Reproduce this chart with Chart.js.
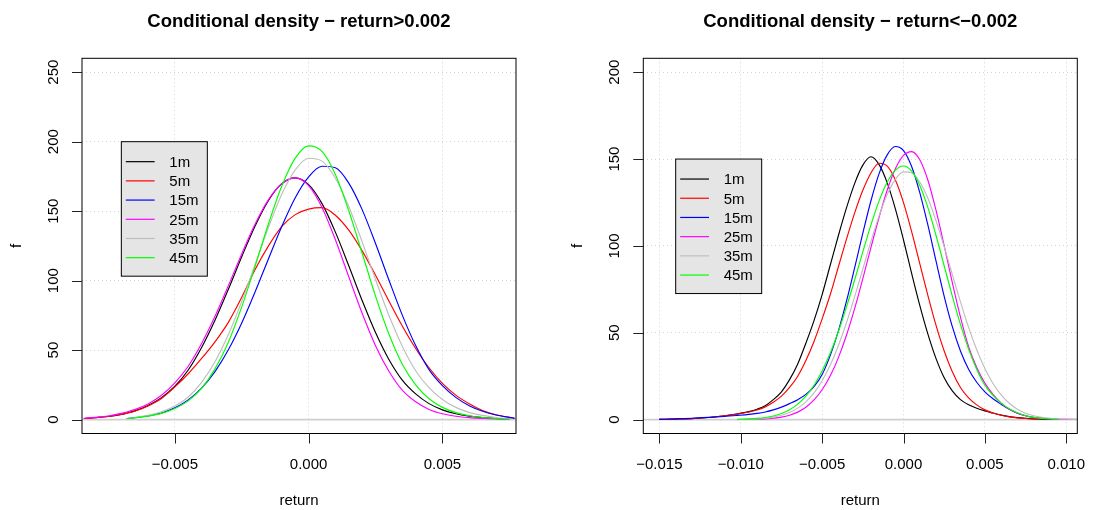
<!DOCTYPE html>
<html>
<head>
<meta charset="utf-8">
<script src="https://cdn.jsdelivr.net/npm/chart.js@4/dist/chart.umd.min.js"></script>
<style>
  html, body { margin: 0; padding: 0; background: #ffffff; }
  #wrap { position: relative; width: 1094px; height: 510px; }
  canvas { position: absolute; top: 0; }
</style>
</head>
<body>
<div id="wrap">
  <canvas id="up" width="547" height="510" style="left:0"></canvas>
  <canvas id="down" width="547" height="510" style="left:547px"></canvas>
</div>
<script>
// Horizons and their line colours
const horizons = ['1m', '5m', '15m', '25m', '35m', '45m'];
const horizonColors = ['#000000', '#FF0000', '#0000FF', '#FF00FF', '#BEBEBE', '#00FF00'];

// Panel 1: density conditional on return > 0.002
const upReturns = [-0.0084, -0.0080, -0.0075, -0.0070, -0.0068, -0.0065, -0.0060, -0.0055, -0.0050, -0.0045,
  -0.0040, -0.0035, -0.0030, -0.0025, -0.0020, -0.0015, -0.0010, -0.0005, 0.0000, 0.0005,
  0.0010, 0.0015, 0.0020, 0.0025, 0.0030, 0.0035, 0.0040, 0.0045, 0.0050, 0.0055,
  0.0060, 0.0065, 0.0070, 0.0075, 0.0077];
const up1m = [0.8, 1.3, 2.2, 3.8, 4.7, 6.3, 10.2, 15.8, 24.0, 35.7,
  51.9, 71.5, 93.8, 117.2, 139.3, 157.7, 169.8, 174.0, 169.1, 155.4,
  134.9, 110.7, 85.7, 62.7, 43.3, 28.4, 18.5, 11.5, 7.0, 4.2,
  2.5, 1.4, 0.8, 0.4, null];
const up5m = [0.8, 1.3, 2.2, 3.7, 4.6, 6.0, 9.8, 15.2, 23.5, 33.0,
  44.0, 56.0, 70.0, 88.0, 108.0, 125.0, 139.0, 147.5, 151.5, 152.5,
  147.1, 136.3, 121.4, 103.9, 85.4, 67.4, 51.2, 37.3, 26.1, 17.6,
  11.4, 6.5, 3.5, 1.6, 1.0];
const up15m = [null, null, null, null, 0.8, 1.4, 2.6, 4.8, 8.5, 14.2,
  22.7, 34.5, 50.2, 69.5, 91.9, 115.8, 139.2, 159.7, 174.7, 182.3,
  181.2, 170.2, 151.1, 126.7, 100.5, 75.2, 53.3, 36.0, 24.5, 16.0,
  10.0, 6.0, 3.3, 1.6, 1.0];
const up25m = [1.0, 1.6, 2.6, 4.5, 5.5, 7.2, 11.3, 17.5, 26.5, 38.4,
  54.7, 74.3, 96.4, 119.2, 140.7, 158.3, 169.9, 174.0, 168.4, 152.6,
  129.4, 102.8, 76.5, 53.2, 34.8, 21.2, 12.8, 7.3, 4.2, 2.4,
  1.4, 0.8, 0.4, 0.2, null];
const up35m = [null, null, null, null, 0.8, 1.5, 3.0, 5.6, 9.8, 16.3,
  26.8, 41.6, 61.2, 85.1, 111.6, 138.4, 162.3, 179.7, 188.1, 186.0,
  173.7, 153.4, 127.9, 100.8, 75.1, 52.8, 35.2, 23.0, 14.5, 8.8,
  5.2, 3.0, 1.5, 0.6, null];
const up45m = [null, null, null, null, 0.8, 1.3, 2.5, 4.5, 8.0, 13.5,
  22.5, 36.5, 55.7, 81.1, 110.4, 140.9, 168.3, 188.2, 197.0, 193.0,
  176.4, 150.3, 119.7, 88.9, 61.6, 39.8, 25.0, 15.0, 8.8, 5.0,
  2.8, 1.5, 0.7, 0.3, null];

// Panel 2: density conditional on return < -0.002
const downReturns = [-0.0150, -0.0140, -0.0130, -0.0120, -0.0110, -0.0102, -0.0095, -0.0090, -0.0085, -0.0080,
  -0.0075, -0.0070, -0.0065, -0.0060, -0.0055, -0.0050, -0.0045, -0.0040, -0.0035, -0.0030,
  -0.0025, -0.0020, -0.0015, -0.0010, -0.0005, 0.0000, 0.0005, 0.0010, 0.0015, 0.0020,
  0.0025, 0.0030, 0.0035, 0.0040, 0.0045, 0.0050, 0.0055, 0.0060, 0.0065, 0.0070,
  0.0075, 0.0080, 0.0085, 0.0090, 0.0095, 0.0100, 0.0107];
const down1m = [0.1, 0.3, 0.6, 1.2, 2.2, 3.3, 4.6, 6.0, 8.0, 11.5,
  16.0, 23.0, 32.0, 44.0, 57.0, 72.0, 89.0, 106.0, 122.0, 136.0,
  146.5, 151.3, 146.8, 136.3, 121.3, 103.4, 84.2, 65.8, 49.2, 35.1,
  24.1, 16.5, 11.5, 8.5, 6.5, 5.0, 3.8, 2.6, 1.7, 1.1,
  0.7, 0.4, 0.25, 0.15, 0.1, null, null];
const down5m = [0.1, 0.3, 0.6, 1.2, 2.2, 3.2, 4.4, 5.5, 7.3, 10.0,
  13.5, 18.5, 25.0, 34.0, 45.0, 58.0, 72.0, 88.0, 104.0, 119.0,
  132.0, 142.0, 147.6, 145.9, 137.9, 124.9, 108.2, 89.8, 71.4, 54.2,
  39.5, 27.6, 18.5, 12.5, 8.5, 5.6, 3.8, 2.5, 1.6, 1.0,
  0.65, 0.4, 0.25, 0.15, 0.1, null, null];
const down15m = [0.1, 0.4, 0.8, 1.3, 1.8, 2.4, 3.0, 3.6, 4.4, 5.6,
  7.2, 9.2, 11.5, 14.5, 19.0, 26.0, 37.0, 51.1, 68.3, 87.5,
  107.3, 126.0, 141.6, 152.4, 157.2, 154.9, 145.7, 130.7, 111.9, 91.2,
  71.0, 53.5, 39.5, 29.0, 21.5, 16.0, 12.0, 8.8, 5.9, 3.7,
  2.2, 1.2, 0.6, 0.3, 0.1, null, null];
const down25m = [null, null, null, null, null, 0.05, 0.1, 0.2, 0.4, 0.8,
  1.4, 2.5, 4.3, 7.1, 11.3, 17.2, 25.2, 35.7, 48.7, 64.0,
  81.2, 99.1, 116.5, 132.2, 144.4, 152.1, 154.3, 149.6, 137.8, 120.4,
  100.1, 78.9, 59.0, 42.0, 30.0, 21.0, 14.5, 9.5, 6.0, 3.7,
  2.2, 1.3, 0.8, 0.5, 0.3, 0.15, 0.08];
const down35m = [null, null, null, null, null, 0.05, 0.2, 0.4, 0.8, 1.4,
  2.5, 4.1, 6.6, 10.2, 15.4, 22.4, 31.4, 42.7, 55.9, 70.8,
  86.7, 102.6, 117.3, 129.6, 138.3, 142.6, 142.1, 136.8, 127.4, 114.4,
  99.5, 83.5, 67.8, 53.1, 40.2, 29.4, 20.8, 14.2, 9.4, 6.0,
  3.7, 2.2, 1.3, 0.7, 0.4, 0.2, 0.1];
const down45m = [null, null, null, null, null, 0.15, 0.4, 0.7, 1.2, 2.1,
  3.5, 5.7, 8.9, 13.5, 19.8, 28.0, 38.3, 50.7, 65.0, 80.5,
  96.6, 112.1, 125.9, 136.6, 143.6, 146.0, 143.1, 134.8, 122.0, 106.0,
  88.5, 71.1, 54.8, 40.6, 28.9, 19.8, 14.0, 9.5, 6.2, 3.9,
  2.3, 1.3, 0.7, 0.35, 0.15, null, null];

// Axis ticks
const upXTicks = [-0.005, 0, 0.005];
const upYTicks = [0, 50, 100, 150, 200, 250];
const downXTicks = [-0.015, -0.010, -0.005, 0, 0.005, 0.010];
const downYTicks = [0, 50, 100, 150, 200];

const FONT = '"Liberation Sans", Arial, Helvetica, sans-serif';

function fmtReturn(v) {
  const s = Math.abs(v).toFixed(3);
  return v < -1e-12 ? '\u2212' + s : s;
}

// Box, ticks, labels, titles and the in-plot legend
const decorations = {
  id: 'decorations',
  afterDatasetsDraw(chart, args, opts) {
    const { ctx, chartArea: a, scales: { x, y } } = chart;
    ctx.save();

    // legend box
    const lx = x.getPixelForValue(opts.legendAt[0]);
    const ly = y.getPixelForValue(opts.legendAt[1]);
    const lw = 86, lh = 134.5;
    ctx.fillStyle = '#E5E5E5';
    ctx.fillRect(lx, ly, lw, lh);
    ctx.strokeStyle = '#000000';
    ctx.lineWidth = 1;
    ctx.strokeRect(lx, ly, lw, lh);
    ctx.font = '15px ' + FONT;
    ctx.textAlign = 'left';
    ctx.textBaseline = 'alphabetic';
    horizons.forEach((name, i) => {
      const ry = ly + 20 + i * 19.2;
      ctx.strokeStyle = horizonColors[i];
      ctx.lineWidth = 1.2;
      ctx.beginPath();
      ctx.moveTo(lx + 4.5, ry);
      ctx.lineTo(lx + 33.3, ry);
      ctx.stroke();
      ctx.fillStyle = '#000000';
      ctx.fillText(name, lx + 48, ry + 5.4);
    });

    // plot frame
    ctx.strokeStyle = '#000000';
    ctx.lineWidth = 1;
    ctx.strokeRect(a.left, a.top, a.right - a.left, a.bottom - a.top);

    // tick marks
    ctx.strokeStyle = '#222222';
    ctx.beginPath();
    opts.xTicks.forEach(v => {
      const px = Math.round(x.getPixelForValue(v)) + 0.5;
      ctx.moveTo(px, a.bottom);
      ctx.lineTo(px, a.bottom + 10);
    });
    opts.yTicks.forEach(v => {
      const py = Math.round(y.getPixelForValue(v)) + 0.5;
      ctx.moveTo(a.left - 10, py);
      ctx.lineTo(a.left, py);
    });
    ctx.stroke();

    // tick labels
    ctx.fillStyle = '#000000';
    ctx.font = '15px ' + FONT;
    ctx.textAlign = 'center';
    opts.xTicks.forEach(v => {
      ctx.fillText(fmtReturn(v), x.getPixelForValue(v), a.bottom + 35.5);
    });
    opts.yTicks.forEach(v => {
      ctx.save();
      ctx.translate(a.left - 24, y.getPixelForValue(v));
      ctx.rotate(-Math.PI / 2);
      ctx.fillText(String(v), 0, 0);
      ctx.restore();
    });

    // axis titles
    const cx = (a.left + a.right) / 2;
    ctx.fillText('return', cx, 505);
    ctx.save();
    ctx.translate(a.left - 61, (a.top + a.bottom) / 2);
    ctx.rotate(-Math.PI / 2);
    ctx.fillText('f', 0, 0);
    ctx.restore();

    // main title
    ctx.font = 'bold 18.5px ' + FONT;
    ctx.fillText(opts.title, cx, 27);

    ctx.restore();
  }
};

function buildPanel(canvasId, cfg) {
  const lines = cfg.series.map((vals, i) => ({
    label: horizons[i],
    data: cfg.returns.map((r, j) => ({ x: r, y: vals[j] })).filter(p => p.y !== null),
    borderColor: horizonColors[i],
    borderWidth: 1.15,
    pointRadius: 0,
    fill: false,
    cubicInterpolationMode: 'monotone',
    order: horizons.length - i
  }));
  lines.push({
    label: 'zero',
    data: [{ x: cfg.xRange[0], y: 0 }, { x: cfg.xRange[1], y: 0 }],
    borderColor: '#CFCFCF',
    borderWidth: 1.6,
    pointRadius: 0,
    fill: false,
    order: 20
  });

  return new Chart(document.getElementById(canvasId), {
    type: 'line',
    data: { datasets: lines },
    plugins: [decorations],
    options: {
      responsive: false,
      animation: false,
      devicePixelRatio: 1,
      layout: { padding: { top: 58.3, right: cfg.rightGap, bottom: 0, left: 0 } },
      plugins: {
        legend: { display: false },
        title: { display: false },
        tooltip: { enabled: false },
        decorations: {
          title: cfg.title,
          xTicks: cfg.xTicks,
          yTicks: cfg.yTicks,
          legendAt: cfg.legendAt
        }
      },
      scales: {
        x: {
          type: 'linear',
          min: cfg.xRange[0],
          max: cfg.xRange[1],
          afterBuildTicks: s => { s.ticks = cfg.xTicks.map(v => ({ value: v })); },
          afterFit: s => { s.height = 76.5; },
          ticks: { display: false },
          grid: { color: '#D3D3D3', lineWidth: 1, drawTicks: false },
          border: { display: false, dash: [1, 3] }
        },
        y: {
          type: 'linear',
          min: cfg.yRange[0],
          max: cfg.yRange[1],
          afterBuildTicks: s => { s.ticks = cfg.yTicks.map(v => ({ value: v })); },
          afterFit: s => { s.width = cfg.leftGap; },
          ticks: { display: false },
          grid: { color: '#D3D3D3', lineWidth: 1, drawTicks: false },
          border: { display: false, dash: [1, 3] }
        }
      }
    }
  });
}

buildPanel('up', {
  title: 'Conditional density \u2212 return>0.002',
  returns: upReturns,
  series: [up1m, up5m, up15m, up25m, up35m, up45m],
  xTicks: upXTicks,
  yTicks: upYTicks,
  xRange: [-0.00847, 0.00775],
  yRange: [-10, 260],
  legendAt: [-0.007, 200],
  leftGap: 82,
  rightGap: 31
});

buildPanel('down', {
  title: 'Conditional density \u2212 return<\u22120.002',
  returns: downReturns,
  series: [down1m, down5m, down15m, down25m, down35m, down45m],
  xTicks: downXTicks,
  yTicks: downYTicks,
  xRange: [-0.01599, 0.01068],
  yRange: [-8, 208],
  legendAt: [-0.014, 150],
  leftGap: 96.3,
  rightGap: 16.7
});
</script>
</body>
</html>
